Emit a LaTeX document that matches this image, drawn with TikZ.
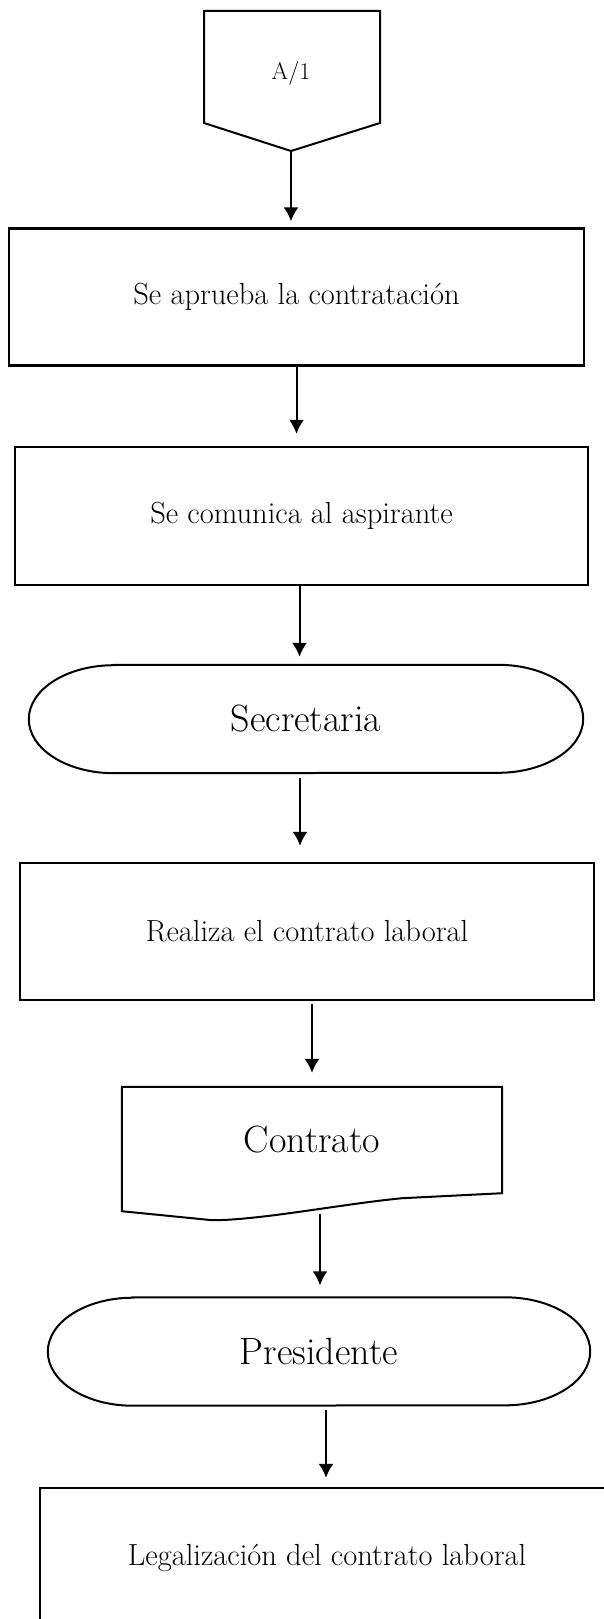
\documentclass[tikz,border=0pt]{standalone}
\usetikzlibrary{arrows.meta}
\tikzset{
  caja/.style={draw, line width=2.4pt, inner sep=0pt, font=\fontsize{30.5}{36}\selectfont},
  rotulo/.style={inner sep=0pt, font=\fontsize{38}{44}\selectfont},
  borde/.style={line width=2pt},
  flecha/.style={line width=2pt, -{Latex[length=14pt,width=15pt]}},
}
\begin{document}
\begin{tikzpicture}[x=1pt,y=1pt]
  \useasboundingbox (0,0) rectangle (603,-1619);
  % conector A/1
  \draw[borde] (204,-11) -- (380,-11) -- (380,-123) -- (291,-151) -- (204,-123) -- cycle;
  \node[font=\fontsize{24}{28}\selectfont] (pagina) at (291,-73) {A/1};
  \coordinate (pico) at (291,-151);

  \node[caja, minimum width=575pt, minimum height=137pt] (aprueba) at (296.5,-297) {Se aprueba la contratación};
  \node[caja, minimum width=573pt, minimum height=138pt] (comunica) at (301.5,-516) {Se comunica al aspirante};
  \node[rotulo, minimum width=554pt, minimum height=108pt] (secretaria) at (306,-719) {Secretaria};
  \node[caja, minimum width=574pt, minimum height=137pt] (realiza) at (307,-931.5) {Realiza el contrato laboral};
  \node[rotulo, minimum width=380pt, minimum height=106pt] (contrato) at (312,-1140) {Contrato};
  \node[rotulo, minimum width=542pt, minimum height=108pt] (presidente) at (319,-1351.5) {Presidente};
  \node[caja, minimum width=574pt, minimum height=140pt] (legal) at (327,-1558) {Legalización del contrato laboral};

  % terminales
  \foreach \t in {secretaria,presidente}
    \draw[borde] ([xshift=85pt]\t.north west) -- ([xshift=-85pt]\t.north east)
      arc[start angle=90, end angle=-90, x radius=85pt, y radius=54pt]
      -- ([xshift=85pt]\t.south west)
      arc[start angle=270, end angle=90, x radius=85pt, y radius=54pt] -- cycle;

  % documento
  \draw[borde] ([yshift=-18pt]contrato.south west) -- (contrato.north west) -- (contrato.north east)
    -- (contrato.south east) -- ++(-100,-5) .. controls +(-62,-6) and +(48,0) .. ++(-190,-22) -- cycle;
  \coordinate (ola) at ([xshift=8pt,yshift=-21pt]contrato.south);

  \draw[flecha, shorten >=6pt] (pico) -- (pico |- aprueba.north);
  \draw[flecha, shorten >=12pt] (aprueba.south) -- (aprueba.south |- comunica.north);
  \draw[flecha, shorten >=8pt] ([xshift=-2pt]comunica.south) -- ([xshift=-2pt]comunica.south |- secretaria.north);
  \draw[flecha, shorten <=5pt, shorten >=16pt] ([xshift=-6pt]secretaria.south) -- ([xshift=-6pt]secretaria.south |- realiza.north);
  \draw[flecha, shorten <=3pt, shorten >=14pt] ([xshift=5pt]realiza.south) -- ([xshift=5pt]realiza.south |- contrato.north);
  \draw[flecha, shorten >=12pt] (ola) -- (ola |- presidente.north);
  \draw[flecha, shorten <=4pt, shorten >=9pt] ([xshift=7pt]presidente.south) -- ([xshift=7pt]presidente.south |- legal.north);
\end{tikzpicture}
\end{document}
